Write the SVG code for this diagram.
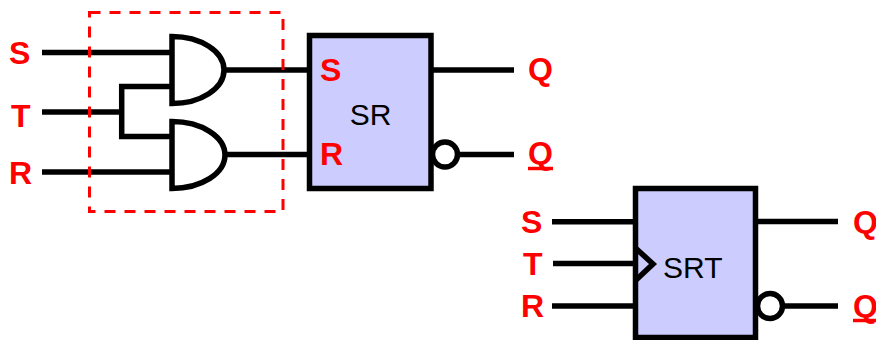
<svg xmlns="http://www.w3.org/2000/svg" width="876" height="340" viewBox="0 0 876 340">
<style>
.w{stroke:#000;stroke-width:5.5;fill:none;stroke-linecap:butt;stroke-linejoin:miter}
.g{stroke:#000;stroke-width:5.5;fill:#fff}
.box{stroke:#000;stroke-width:5.5;fill:#ccccff}
.lbl{font-family:"Liberation Sans",Arial,sans-serif;font-weight:bold;font-size:32px;fill:#ff0000}
.name{font-family:"Liberation Sans",Arial,sans-serif;font-size:30px;fill:#000}
.ul{stroke:#ff0000;stroke-width:3.5}
.dash{stroke:#ff0000;stroke-width:3;fill:none;stroke-dasharray:11 9}
</style>
<rect width="876" height="340" fill="#fff"/>
<g id="connectors">
<line class="w" x1="42" y1="52.5" x2="172" y2="52.5"/>
<line class="w" x1="42" y1="112" x2="122" y2="112"/>
<polyline class="w" points="172,86.5 121.7,86.5 121.7,136.5 172,136.5"/>
<line class="w" x1="42" y1="172" x2="172" y2="172"/>
<line class="w" x1="220" y1="70" x2="310" y2="70"/>
<line class="w" x1="220" y1="154.5" x2="310" y2="154.5"/>
<line class="w" x1="431" y1="70" x2="514" y2="70"/>
<line class="w" x1="457" y1="154.5" x2="514" y2="154.5"/>
<line class="w" x1="552" y1="221.7" x2="636" y2="221.7"/>
<line class="w" x1="553" y1="263.5" x2="636" y2="263.5"/>
<line class="w" x1="552" y1="306" x2="636" y2="306"/>
<line class="w" x1="755" y1="221.5" x2="838" y2="221.5"/>
<line class="w" x1="782" y1="306" x2="838" y2="306"/>
</g>
<g id="group-box">
<rect class="dash" x="89.5" y="12.5" width="193.5" height="199"/>
</g>
<g id="and1">
<path class="g" d="M172,36.5 A52,33.5 0 0 1 172,103.5 Z"/>
</g>
<g id="and2">
<path class="g" d="M172,121.5 A53,33.5 0 0 1 172,188.5 Z"/>
</g>
<g id="sr">
<rect class="box" x="309.5" y="35.5" width="121.5" height="153"/>
<circle class="g" cx="445" cy="154.5" r="12.5"/>
<text class="lbl" x="320" y="80.5">S</text>
<text class="lbl" x="320" y="164.5">R</text>
<text class="name" x="370.5" y="124.5" text-anchor="middle">SR</text>
</g>
<g id="srt">
<rect class="box" x="635.5" y="188.5" width="120" height="149"/>
<polyline class="w" points="636,248.5 653,264 636,280"/>
<circle class="g" cx="770" cy="306" r="12.5"/>
<text class="name" x="663" y="277.5">SRT</text>
</g>
<g id="labels">
<text class="lbl" x="9" y="64">S</text>
<text class="lbl" x="11" y="127">T</text>
<text class="lbl" x="9" y="184">R</text>
<text class="lbl" x="528" y="80">Q</text>
<text class="lbl" x="528" y="164">Q</text>
<line class="ul" x1="528" y1="168.5" x2="553" y2="168.5"/>
<text class="lbl" x="521" y="232.5">S</text>
<text class="lbl" x="523" y="274.5">T</text>
<text class="lbl" x="521" y="317">R</text>
<text class="lbl" x="853" y="232.5">Q</text>
<text class="lbl" x="853" y="316.5">Q</text>
<line class="ul" x1="853" y1="320.5" x2="877" y2="320.5"/>
</g>
</svg>
